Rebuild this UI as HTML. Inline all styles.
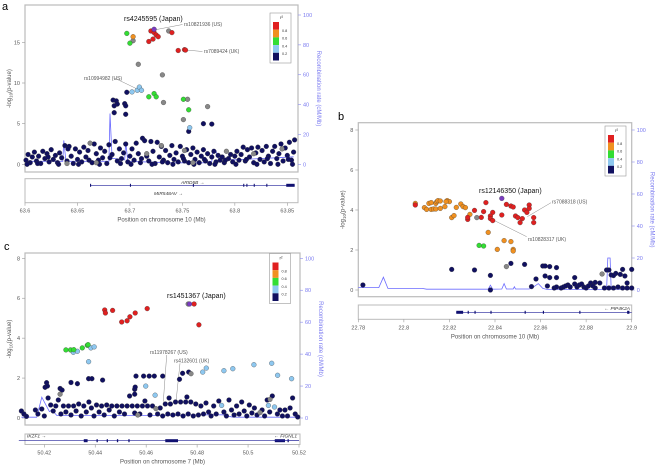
<!DOCTYPE html>
<html><head><meta charset="utf-8"><style>
html,body{margin:0;padding:0;background:#fff;}
svg{display:block;font-family:"Liberation Sans",sans-serif;}
</style></head><body>
<svg id="fig" width="660" height="470" viewBox="0 0 660 470"></svg>
<script>
// ---------- Panel a data ----------
const aPurple=[[63.723,16.6]];
const aRed=[[63.720,16.4],[63.723,16.2],[63.725,15.9],[63.727,15.7],[63.722,15.4],[63.718,15.1],[63.740,16.2],[63.746,14.0],[63.752,14.1],[63.753,14.05]];
const aOrange=[[63.703,15.7]];
const aGreen=[[63.697,16.1],[63.700,14.9],[63.718,8.3],[63.723,8.7],[63.725,8.3],[63.751,8.0],[63.756,6.7]];
const aLight=[[63.702,8.9],[63.707,9.1],[63.709,9.5],[63.711,9.1],[63.757,4.5]];
const aGray=[[63.737,16.4],[63.703,15.2],[63.708,12.3],[63.731,11.0],[63.755,8.0],[63.732,7.6],[63.774,7.1],[63.751,5.5],[63.662,2.6],[63.730,2.3],[63.716,1.3],[63.752,1.7],[63.792,1.6],[63.640,0.1],[63.668,0.2],[63.845,1.9],[63.760,0.2],[63.818,1.3]];
const aNavy=[[63.697,8.85],[63.756,4.05],[63.770,5.0],[63.778,4.95],[63.684,7.9],[63.687,7.8],[63.688,7.4],[63.685,7.2],[63.695,7.45],[63.696,7.2],[63.685,6.35],[63.696,6.15],
[63.601,0.5],[63.603,1.2],[63.605,0.2],[63.607,0.9],[63.609,1.5],[63.611,0.4],[63.613,1.0],[63.615,0.1],[63.617,1.6],[63.619,0.7],[63.621,1.3],[63.623,0.3],[63.625,1.8],[63.627,0.6],[63.629,1.1],[63.631,0.2],[63.633,1.4],[63.635,0.8],[63.638,2.3],[63.640,0.4],[63.642,2.2],[63.644,1.0],[63.646,0.1],[63.648,1.9],[63.650,0.6],[63.652,1.5],[63.654,0.3],[63.656,2.1],[63.658,0.9],[63.660,1.7],[63.664,0.2],[63.666,2.5],[63.668,1.3],[63.670,0.5],[63.672,2.0],[63.674,0.8],[63.676,1.6],[63.678,0.1],[63.680,2.4],[63.683,1.2],[63.686,2.8],[63.688,0.4],[63.690,1.9],[63.692,0.7],[63.694,1.4],[63.696,2.5],[63.698,0.3],[63.700,1.0],[63.702,1.9],[63.704,0.5],[63.706,2.6],[63.708,1.3],[63.710,0.2],[63.712,3.2],[63.714,2.9],[63.716,1.0],[63.718,0.4],[63.720,2.8],[63.722,1.6],[63.724,0.1],[63.726,2.7],[63.728,0.9],[63.730,2.2],[63.732,0.5],[63.734,1.7],[63.736,0.2],[63.738,1.1],[63.740,2.3],[63.742,0.6],[63.744,1.4],[63.746,0.3],[63.748,2.2],[63.750,1.0],[63.752,0.4],[63.754,1.8],[63.756,0.2],[63.758,1.2],[63.760,2.0],[63.762,0.6],[63.764,1.5],[63.766,0.2],[63.768,1.0],[63.770,1.8],[63.772,0.4],[63.774,1.3],[63.776,0.1],[63.778,0.9],[63.780,1.6],[63.782,0.3],[63.784,1.1],[63.786,0.5],[63.788,0.9],[63.790,0.2],[63.794,0.7],[63.796,1.2],[63.798,0.3],[63.800,1.0],[63.802,1.6],[63.804,0.5],[63.806,1.2],[63.808,2.1],[63.810,0.4],[63.812,1.8],[63.814,0.9],[63.816,2.0],[63.818,0.2],[63.820,1.4],[63.822,2.1],[63.824,0.6],[63.826,1.7],[63.828,0.3],[63.830,2.2],[63.832,1.0],[63.834,0.1],[63.836,1.6],[63.838,2.2],[63.840,0.7],[63.842,1.3],[63.844,2.5],[63.846,0.4],[63.848,2.0],[63.850,1.1],[63.852,2.7],[63.854,0.5],[63.856,1.5],[63.857,3.0],[63.602,0.0],[63.612,0.1],[63.622,0.9],[63.632,0.0],[63.641,1.9],[63.651,0.0],[63.661,0.5],[63.671,0.0],[63.681,0.8],[63.691,0.1],[63.701,0.0],[63.711,0.7],[63.721,0.0],[63.731,0.3],[63.741,0.0],[63.751,0.7],[63.761,0.0],[63.771,0.6],[63.781,0.0],[63.791,0.5],[63.801,0.0],[63.811,0.6],[63.821,0.0],[63.831,0.7],[63.841,0.0],[63.851,0.6],[63.855,0.0]];
const aRec=[[63.6,2],[63.636,2],[63.637,16],[63.639,2],[63.68,2],[63.681,34],[63.683,4],[63.695,3],[63.696,15],[63.698,2],[63.74,1],[63.77,1],[63.778,2],[63.779,10],[63.782,9],[63.784,4],[63.8,3],[63.83,4],[63.856,5]];
const aXTicks=[63.6,63.65,63.7,63.75,63.8,63.85];
const aYTicks=[0,5,10,15];
// ---------- Panel b data ----------
const bPurple=[[22.843,4.58]];
const bRed=[[22.805,4.25],[22.836,4.37],[22.845,4.28],[22.847,4.2],[22.848,4.15],[22.831,3.98],[22.835,3.92],[22.839,3.88],[22.855,4.25],[22.855,4.08],[22.853,4.0],[22.854,3.88],[22.838,3.7],[22.838,3.57],[22.839,3.47],[22.843,3.75],[22.849,3.7],[22.850,3.62],[22.851,3.37],[22.852,3.57],[22.857,3.62],[22.857,3.37],[22.834,3.63],[22.828,3.53],[22.828,3.63]];
const bOrange=[[22.805,4.33],[22.809,4.12],[22.810,4.03],[22.811,4.33],[22.812,4.37],[22.814,4.33],[22.8145,4.42],[22.815,4.47],[22.816,4.45],[22.812,4.03],[22.813,4.05],[22.814,4.05],[22.816,4.08],[22.818,4.17],[22.819,4.47],[22.820,4.42],[22.8185,4.42],[22.823,4.13],[22.825,4.3],[22.826,4.17],[22.827,4.12],[22.821,3.62],[22.822,3.72],[22.829,3.78],[22.837,2.88],[22.844,2.47],[22.847,2.42],[22.841,2.03],[22.848,2.03],[22.848,1.95]];
const bGreen=[[22.833,2.23],[22.835,2.2]];
const bLight=[];
const bGray=[[22.832,3.62],[22.845,1.17],[22.887,0.8]];
const bNavy=[[22.782,0.25],[22.821,1.03],[22.831,1.0],[22.838,0.73],[22.838,0.0],[22.847,1.33],[22.853,1.28],[22.858,0.55],[22.861,1.2],[22.862,1.2],[22.864,1.17],[22.862,0.7],[22.864,0.62],[22.867,1.12],[22.867,0.62],[22.863,0.2],[22.856,0.17],[22.866,0.1],[22.867,0.15],[22.869,0.1],[22.870,0.15],[22.872,0.25],[22.873,0.15],[22.875,0.3],[22.876,0.15],[22.877,0.25],[22.879,0.15],[22.880,0.1],[22.882,0.35],[22.883,0.2],[22.884,0.1],[22.886,0.35],[22.888,0.1],[22.890,0.1],[22.892,0.1],[22.894,0.15],[22.896,0.1],[22.898,0.1],[22.9,0.1],[22.875,0.62],[22.884,0.38],[22.889,1.0],[22.890,1.0],[22.891,0.75],[22.893,0.83],[22.895,0.78],[22.896,1.03],[22.897,0.7],[22.9,1.03],[22.898,0.35],[22.892,0.72],[22.871,0.2],[22.878,0.3],[22.881,0.2]];
const bRec=[[22.78,1.5],[22.789,1.5],[22.791,8],[22.793,1],[22.808,1],[22.81,0.5],[22.837,0.5],[22.838,3],[22.839,0.5],[22.843,0.6],[22.844,4],[22.845,0.6],[22.848,0.6],[22.8485,2],[22.849,0.6],[22.855,0.6],[22.857,2],[22.859,4],[22.861,1],[22.863,0.3],[22.889,0.3],[22.8895,20],[22.8905,20],[22.891,0.3],[22.9,0.3]];
const bXTicks=[22.78,22.8,22.82,22.84,22.86,22.88,22.9];
const bYTicks=[0,2,4,6,8];
// ---------- Panel c data ----------
const cPurple=[[50.4770,5.71]];
const cRed=[[50.4788,5.71],[50.4807,4.67],[50.4437,5.41],[50.4440,5.26],[50.4468,5.39],[50.4504,4.81],[50.4525,4.87],[50.4536,5.07],[50.4557,5.26],[50.4604,5.48]];
const cOrange=[];
const cGreen=[[50.4285,3.41],[50.4303,3.41],[50.4316,3.42],[50.4349,3.51],[50.4369,3.64],[50.4372,3.67]];
const cLight=[[50.4314,3.29],[50.4330,3.34],[50.4383,3.51],[50.4396,3.56],[50.4374,2.82],[50.4598,1.60],[50.4635,1.14],[50.4822,2.30],[50.4836,2.50],[50.4905,2.37],[50.4940,2.47],[50.5023,2.67],[50.5093,2.74],[50.5116,2.14],[50.5171,1.97],[50.4896,0.63],[50.5080,0.63],[50.5104,0.55]];
const cGray=[[50.4765,5.71],[50.4776,2.22],[50.4262,1.19],[50.4567,0.15],[50.4638,0.47],[50.5047,0.27],[50.5086,0.93]];
const cNavy=[[50.4203,1.54],[50.4209,1.77],[50.4212,1.6],[50.4262,1.48],[50.4270,1.4],[50.4305,1.78],[50.4330,1.72],[50.4374,1.97],[50.4387,1.97],[50.4429,1.90],[50.4555,1.19],[50.4555,1.44],[50.4557,1.55],[50.4560,2.10],[50.4590,2.10],[50.4612,2.10],[50.4632,2.10],[50.4665,2.10],[50.4743,2.24],[50.4767,2.30],[50.4731,1.94],[50.4690,1.0],[50.4760,1.05],
[50.4110,0.35],[50.4120,0.2],[50.4130,0.08],[50.4165,0.4],[50.4175,0.2],[50.4190,0.45],[50.4200,0.1],[50.4215,1.0],[50.4225,0.65],[50.4235,0.35],[50.4245,0.6],[50.4255,0.9],[50.4265,0.2],[50.4275,0.6],[50.4285,0.3],[50.4295,0.6],[50.4305,0.15],[50.4315,0.6],[50.4325,0.35],[50.4335,0.7],[50.4345,0.1],[50.4355,0.6],[50.4365,0.3],[50.4375,0.8],[50.4385,0.5],[50.4395,0.1],[50.4405,0.65],[50.4415,0.3],[50.4425,0.6],[50.4435,0.15],[50.4445,0.65],[50.4455,0.4],[50.4465,0.6],[50.4475,0.1],[50.4485,0.6],[50.4495,0.3],[50.4505,0.6],[50.4515,0.2],[50.4525,0.6],[50.4535,1.1],[50.4545,0.6],[50.4555,0.25],[50.4565,0.6],[50.4575,0.2],[50.4585,0.6],[50.4595,0.85],[50.4605,0.6],[50.4615,0.15],[50.4625,0.6],[50.4645,0.2],[50.4655,0.5],[50.4665,0.1],[50.4675,0.7],[50.4685,0.2],[50.4695,0.7],[50.4705,0.15],[50.4715,0.8],[50.4725,0.2],[50.4735,0.8],[50.4745,0.1],[50.4755,0.8],[50.4765,0.2],[50.4775,0.8],[50.4785,0.1],[50.4795,0.7],[50.4805,0.15],[50.4815,0.6],[50.4825,0.2],[50.4835,0.75],[50.4845,0.3],[50.4855,0.1],[50.4865,0.6],[50.4875,0.2],[50.4885,0.85],[50.4905,0.3],[50.4915,0.1],[50.4925,0.9],[50.4935,0.4],[50.4945,0.15],[50.4955,0.6],[50.4965,0.2],[50.4975,0.8],[50.4985,0.35],[50.4995,0.1],[50.5005,0.65],[50.5015,0.25],[50.5025,0.5],[50.5035,0.15],[50.5055,0.4],[50.5065,0.1],[50.5075,0.9],[50.5085,0.3],[50.5095,1.1],[50.5115,0.2],[50.5125,0.4],[50.5135,0.1],[50.5145,0.4],[50.5155,0.1],[50.5165,0.5],[50.5175,1.0],[50.5185,0.2],[50.5195,0.05]];
const cRec=[[50.411,0.5],[50.417,0.5],[50.419,13],[50.422,4],[50.423,5],[50.425,1.5],[50.47,1.5],[50.48,2],[50.49,2],[50.494,0.5],[50.52,0.5]];
const cXTicks=[50.42,50.44,50.46,50.48,50.5,50.52];
const cYTicks=[0,2,4,6,8];
const recTicks=[0,20,40,60,80,100];
const legendVals=["0.8","0.6","0.4","0.2"];

const NS="http://www.w3.org/2000/svg";
const svg=document.getElementById('fig');
function el(tag,attrs,parent,text){const e=document.createElementNS(NS,tag);for(const k in attrs)e.setAttribute(k,attrs[k]);if(text!==undefined)e.textContent=text;(parent||svg).appendChild(e);return e;}
const COL={navy:"#101060",gray:"#888888",light:"#8ec8f0",green:"#33dd33",orange:"#f09020",red:"#e02020",purple:"#7a3cc0"};

function panel(P){
  const g=el('g',{});
  
  
  const X=v=>P.x0+(v-P.xa)/(P.xb-P.xa)*(P.x1-P.x0);
  const Y=v=>P.y0-v*P.yu;
  const R=v=>P.y0-v*P.ru;
  const lbl=el('text',{x:P.lx,y:P.ly,'font-size':11,fill:'#000'},g,P.name);
  
  
  const box=el('rect',{x:P.L,y:P.T,width:P.R-P.L,height:P.B-P.T,fill:'#fff',stroke:'#bbb','stroke-width':1.2},g);
  
  
  P.yt.forEach(t=>{const yy=Y(t);el('line',{x1:P.L-3,x2:P.L,y1:yy,y2:yy,stroke:'#999','stroke-width':0.6},g);
    const tx=el('text',{x:P.L-5,y:yy+2,'font-size':5.5,fill:'#555','text-anchor':'end'},g,String(t));
    
    });
  recTicks.forEach(t=>{const yy=R(t);el('line',{x1:P.R,x2:P.R+3,y1:yy,y2:yy,stroke:'#8a8af0','stroke-width':0.6},g);
    const tx=el('text',{x:P.R+5,y:yy+2,'font-size':5.5,fill:'#7a7af0'},g,String(t));
    
    });
  const yt=el('text',{transform:`translate(${P.L-14},${(P.T+P.B)/2}) rotate(-90)`,'font-size':6,fill:'#555','text-anchor':'middle'},g);
  
  
  yt.innerHTML='-log<tspan font-size="4.5" dy="1.5">10</tspan><tspan dy="-1.5">(p-value)</tspan>';
  const rt=el('text',{transform:`translate(${P.R+19},${(P.T+P.B)/2}) rotate(90)`,'font-size':6,fill:'#7a7af0','text-anchor':'middle'},g,'Recombination rate (cM/Mb)');
  
  
  const rl=el('polyline',{points:P.rec.map(p=>X(p[0]).toFixed(1)+','+R(p[1]).toFixed(1)).join(' '),fill:'none',stroke:'#6a6aff','stroke-width':0.8},g);
  
  
  P.ann.forEach(a=>{el('line',{x1:a[2],y1:a[3],x2:a[4],y2:a[5],stroke:'#888','stroke-width':0.5},g);
    const t=el('text',{x:a[0],y:a[1],'font-size':a[7]||5,fill:a[7]?'#111':'#555'},g,a[6]);
    
    });
  [['navy',P.navy],['gray',P.gray],['light',P.light],['green',P.green],['orange',P.orange],['red',P.red],['purple',P.purple]].forEach(([c,arr])=>{
    arr.forEach(p=>{const cc=el('circle',{cx:X(p[0]).toFixed(1),cy:Y(p[1]).toFixed(1),r:P.pr,fill:COL[c],stroke:'#333','stroke-width':0.3},g);
      
      });});
  const lg=el('g',{},g);
  
  
  el('rect',{x:P.lgx,y:P.lgy,width:21,height:50,fill:'#fff',stroke:'#999','stroke-width':0.6},lg);
  el('text',{x:P.lgx+10,y:P.lgy+6,'font-size':4.5,fill:'#333'},lg,'r²');
  const lc=[COL.red,COL.orange,COL.green,COL.light,COL.navy];
  lc.forEach((c,i)=>el('rect',{x:P.lgx+3,y:P.lgy+9+i*7.7,width:6,height:7.7,fill:c},lg));
  legendVals.forEach((v,i)=>el('text',{x:P.lgx+12,y:P.lgy+19+i*7.7,'font-size':3.8,fill:'#333'},lg,v));
  const gp=el('g',{},g);
  
  
  el('rect',{x:P.L,y:P.gT,width:P.R-P.L,height:P.gB-P.gT,fill:'#fff',stroke:'#bbb','stroke-width':1},gp);
  P.genes.forEach(gn=>{
    el('line',{x1:X(gn.s),x2:X(gn.e),y1:gn.y,y2:gn.y,stroke:'#22229a','stroke-width':0.6},gp);
    gn.ex.forEach(e=>el('rect',{x:X(e[0]),y:gn.y-1.5,width:Math.max(0.8,X(e[1])-X(e[0])),height:3,fill:'#101070'},gp));
    const t=el('text',{x:gn.tx,y:gn.ty,'font-size':4.8,'font-style':'italic',fill:'#333','text-anchor':gn.anc||'start'},gp,gn.label);
    
    });
  P.xt.forEach(t=>{const xx=X(t);el('line',{x1:xx,x2:xx,y1:P.gB,y2:P.gB+3,stroke:'#999','stroke-width':0.6},g);
    const tx=el('text',{x:xx,y:P.gB+10,'font-size':5.5,fill:'#555','text-anchor':'middle'},g,String(t));
    
    });
  const xt=el('text',{x:(P.L+P.R)/2,y:P.gB+19,'font-size':6,fill:'#555','text-anchor':'middle'},g,P.xtitle);
  
  
}

panel({name:'a',lx:2,ly:10,L:25,R:298,T:5,B:172,x0:25,x1:287.3,xa:63.6,xb:63.85,y0:164.3,yu:8.13,ru:1.493,pr:2.4,
  yt:aYTicks,xt:aXTicks,rec:aRec,navy:aNavy,gray:aGray,light:aLight,green:aGreen,orange:aOrange,red:aRed,purple:aPurple,
  lgx:270,lgy:13,gT:178.7,gB:202.7,xtitle:'Position on chromosome 10 (Mb)',
  genes:[{s:63.662,e:63.857,y:185.3,ex:[[63.662,63.663],[63.700,63.701],[63.760,63.761],[63.808,63.809],[63.811,63.812],[63.818,63.819],[63.83,63.831],[63.849,63.857]],label:'ARID5B →',tx:181,ty:184},
         {s:63.736,e:63.736,y:198,ex:[],label:'MIR548AV →',tx:154,ty:195}],
  ann:[[124,21,0,0,0,0,'rs4245595 (Japan)',7],[184,26,154,30,182.5,24.5,'rs10821936 (US)'],[204,53,186,50,202.5,51.5,'rs7089424 (UK)'],[84,80,114.3,78,139.3,90,'rs10994982 (US)']]});

panel({name:'b',lx:338,ly:120,L:358.3,R:631.7,T:122.7,B:296.7,x0:358.3,x1:631.7,xa:22.78,xb:22.9,y0:290,yu:20,ru:1.6,pr:2.4,
  yt:bYTicks,xt:bXTicks,rec:bRec,navy:bNavy,gray:bGray,light:bLight,green:bGreen,orange:bOrange,red:bRed,purple:bPurple,
  lgx:605,lgy:126,gT:305,gB:319.3,xtitle:'Position on chromosome 10 (Mb)',
  genes:[{s:22.823,e:22.9,y:312.3,ex:[[22.823,22.826],[22.828,22.8285],[22.831,22.8315],[22.838,22.8385],[22.853,22.8535],[22.861,22.8615],[22.877,22.8775],[22.898,22.899]],label:'← PIP4K2A',tx:630,ty:310,anc:'end'}],
  ann:[[479,193,0,0,0,0,'rs12146350 (Japan)',7],[552,203.5,551,202.7,527.3,216.7,'rs7088318 (US)'],[528,241,526.7,236.7,493.3,220,'rs10828317 (UK)']]});

panel({name:'c',lx:4,ly:250,L:25,R:300,T:253,B:425,x0:44.3,x1:299,xa:50.42,xb:50.52,y0:418,yu:19.96,ru:1.597,pr:2.4,
  yt:cYTicks,xt:cXTicks,rec:cRec,navy:cNavy,gray:cGray,light:cLight,green:cGreen,orange:cOrange,red:cRed,purple:cPurple,
  lgx:269.5,lgy:253.5,gT:434,gB:444.5,xtitle:'Position on chromosome 7 (Mb)',
  genes:[{s:50.41,e:50.52,y:440.7,ex:[[50.4355,50.437],[50.4405,50.441],[50.4445,50.445],[50.4485,50.449],[50.453,50.4535],[50.4675,50.4725],[50.5105,50.5145],[50.5155,50.516]],label:'IKZF1 →',tx:27,ty:437.5},
         {s:50.51,e:50.52,y:440.7,ex:[],label:'← FIGNL1',tx:297,ty:437.5,anc:'end'}],
  ann:[[167,298,0,0,0,0,'rs1451367 (Japan)',7],[150,354,166.7,355,163.3,401.7,'rs11978267 (US)'],[174,362.5,180,363.3,176,401.7,'rs4132601 (UK)']]});
</script>
</body></html>
